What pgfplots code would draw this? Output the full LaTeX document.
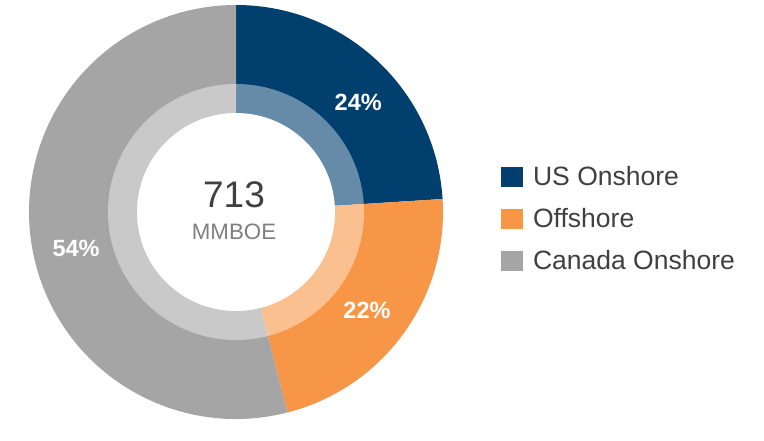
\documentclass[border=0pt]{standalone}
\usepackage{fontspec}
\setmainfont{Liberation Sans}
\usepackage{pgfplots}
\usepackage{pgfplotstable}
\pgfplotsset{compat=1.18}
\definecolor{usblue}{HTML}{003F6E}
\definecolor{offorange}{HTML}{F79646}
\definecolor{cangray}{HTML}{A5A5A5}

% share of 713 MMBOE, percent
\pgfplotstableread{
segment share
US 24
Off 22
Can 54
}\donut
\pgfplotstablegetelem{0}{share}\of\donut \let\vA\pgfplotsretval
\pgfplotstablegetelem{1}{share}\of\donut \let\vB\pgfplotsretval
\pgfplotstablegetelem{2}{share}\of\donut \let\vC\pgfplotsretval
\pgfmathsetmacro{\aA}{90}
\pgfmathsetmacro{\aB}{\aA-3.6*\vA}
\pgfmathsetmacro{\aC}{\aB-3.6*\vB}
\pgfmathsetmacro{\aD}{\aC-3.6*\vC}
% label directions, nudged a little off the mid angle like the original
\pgfmathsetmacro{\mA}{(\aA+\aB)/2-5}
\pgfmathsetmacro{\mB}{(\aB+\aC)/2-1}
\pgfmathsetmacro{\mC}{(\aC+\aD)/2+5.5}

\begin{document}
\begin{tikzpicture}
\begin{axis}[
  scale only axis, width=764pt, height=424pt,
  xmin=0, xmax=764, ymin=0, ymax=424,
  hide axis, clip=false,
  legend cell align=left,
  legend style={at={(axis cs:501,260)}, anchor=north west, draw=none, fill=none,
    font=\fontsize{26.5}{30}\selectfont, text=black!75,
    inner sep=0pt, row sep=17.5pt,
    /tikz/every odd column/.append style={column sep=8.5pt}},
  legend image code/.code={\fill[#1] (0pt,-9.5pt) rectangle (21pt,9.5pt);},
]
\path (axis cs:0,0) rectangle (axis cs:764,424);
\addlegendimage{usblue}\addlegendentry{US Onshore}
\addlegendimage{offorange}\addlegendentry{Offshore}
\addlegendimage{cangray}\addlegendentry{Canada Onshore}
\fill[usblue] (axis cs:236,212) -- ++(\aA:207pt) arc[start angle=\aA, end angle=\aB, radius=207pt] -- cycle;
\fill[offorange] (axis cs:236,212) -- ++(\aB:207pt) arc[start angle=\aB, end angle=\aC, radius=207pt] -- cycle;
\fill[cangray] (axis cs:236,212) -- ++(\aC:207pt) arc[start angle=\aC, end angle=\aD, radius=207pt] -- cycle;
\fill[white, opacity=0.4] (axis cs:236,212) circle[radius=128pt];
\fill[white] (axis cs:236,212) circle[radius=99pt];
\path (axis cs:236,212) ++(\mA:164pt) node[white, font=\bfseries\fontsize{23.5}{28}\selectfont] {\vA\%};
\path (axis cs:236,212) ++(\mB:164pt) node[white, font=\bfseries\fontsize{23.5}{28}\selectfont] {\vB\%};
\path (axis cs:236,212) ++(\mC:164pt) node[white, font=\bfseries\fontsize{23.5}{28}\selectfont] {\vC\%};
\node[text=black!75, font=\fontsize{37}{42}\selectfont] at (axis cs:234,229) {713};
\node[text=black!50, font=\fontsize{22.3}{26}\selectfont] at (axis cs:234,192) {MMBOE};
\end{axis}
\end{tikzpicture}
\end{document}
